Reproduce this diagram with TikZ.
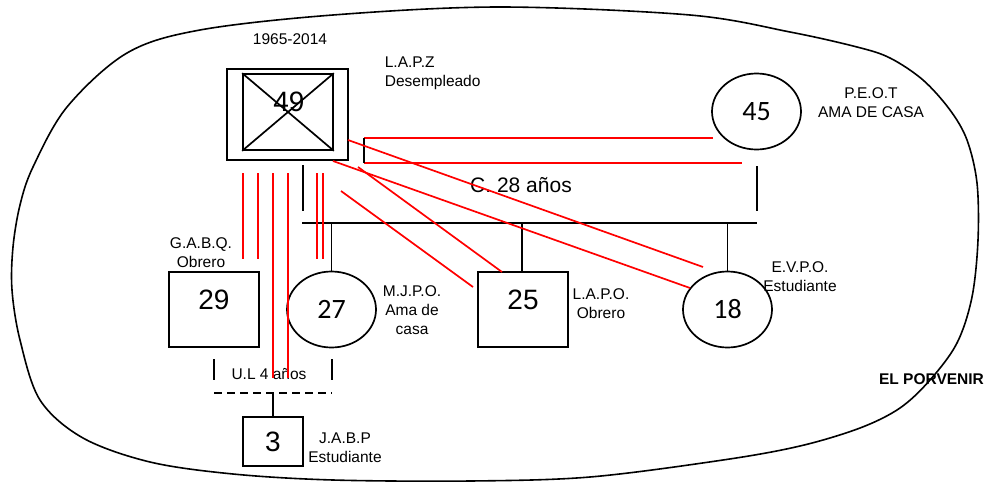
\documentclass[tikz,border=0pt]{standalone}
\usepackage{fontspec}
\setmainfont{Liberation Sans}
\newfontfamily\calib{Carlito}
\usetikzlibrary{shapes.geometric}
\begin{document}
\begin{tikzpicture}[x=1pt,y=-1pt,line width=1.7pt,
  kin/.style={draw=red,line width=1.7pt},
  lbl/.style={font=\fontsize{15.5}{19}\selectfont,inner sep=0pt,align=center,anchor=north},
  num/.style={font=\fontsize{28}{30}\selectfont,inner sep=0pt},
  sq/.style={draw,rectangle,inner sep=0pt},
  fem/.style={draw,ellipse,inner sep=0pt,minimum width=89pt,minimum height=76pt,font=\calib\fontsize{28}{30}\selectfont}]
\useasboundingbox (0,0) rectangle (990,482);
% territory
\draw[line width=1.6pt] plot[smooth cycle,tension=0.55] coordinates {
 (500,7) (690,15) (790,32) (857,47) (890,58) (923,80) (950,110) (967,140)
 (977,183) (978,240) (972,297) (957,343) (930,380) (900,408) (860,428) (800,446)
 (723,460) (590,477) (470,481) (333,480) (233,474) (150,462) (83,438)
 (40,400) (20,340) (12,290) (13,247) (20,205) (33,167) (67,107) (127,53)
 (200,30) (333,15)};
% deceased father
\node[sq,minimum width=121pt,minimum height=91pt] (p49) at (287.5,114.5) {};
\node[sq,minimum width=90pt,minimum height=76pt] (p49in) at (288,112) {};
\draw (p49in.north west) -- (p49in.south east);
\draw (p49in.south west) -- (p49in.north east);
\node[num] (t49) at (289,102) {49};
\node[lbl] (dates) at (290,33) {1965-2014};
\node[lbl,align=left,anchor=north west] (l49) at (384,56) {L.A.P.Z\\Desempleado};
% mother
\node[fem] (c45) at (756.5,111.5) {45};
\node[lbl] (l45) at (871,87) {P.E.O.T\\AMA DE CASA};
% marriage
\coordinate (mL) at (303,165); \coordinate (mLb) at (303,211);
\coordinate (mR) at (757,166); \coordinate (mRb) at (757,211);
\draw (mL) -- (mLb);
\draw (mR) -- (mRb);
\node[font=\fontsize{21}{24}\selectfont,inner sep=0pt,anchor=north] (cas) at (521,177) {C. 28 años};
\coordinate (sibL) at (302,223); \coordinate (sibR) at (757,223);
\draw (sibL) -- (sibR);
% children
\node[sq,minimum width=90pt,minimum height=75pt] (b29) at (214,309.5) {};
\node[num] (t29) at (214,300) {29};
\node[lbl] (l29) at (201,237) {G.A.B.Q.\\Obrero};
\node[fem] (c27) at (331.5,309.5) {27};
\node[lbl] (l27) at (412,285) {M.J.P.O.\\Ama de\\casa};
\node[sq,minimum width=90pt,minimum height=75pt] (b25) at (523,309.5) {};
\node[num] (t25) at (523,300) {25};
\node[lbl] (l25) at (601,288) {L.A.P.O.\\Obrero};
\node[fem] (c18) at (727.5,309.5) {18};
\node[lbl] (l18) at (800,261) {E.V.P.O.\\Estudiante};
\draw (c27.north) -- (c27.north |- sibL);
\draw (522,272) -- (522,223);
\draw (c18.north) -- (c18.north |- sibL);
% free union and grandchild
\coordinate (uL) at (214,359); \coordinate (uLb) at (214,380);
\coordinate (uR) at (332,359); \coordinate (uRb) at (332,380);
\draw (uL) -- (uLb);
\draw (uR) -- (uRb);
\node[lbl] (lul) at (269,368) {U.L 4 años};
\coordinate (dL) at (214,393); \coordinate (dR) at (332,393);
\draw[dash pattern=on 7.5pt off 5.5pt] (dL) -- (dR);
\node[sq,minimum width=60pt,minimum height=49pt,font=\fontsize{28}{30}\selectfont] (b3) at (273,441.5) {3};
\draw (b3.north) -- (b3.north |- dL);
\node[lbl] (l3) at (345,432) {J.A.B.P\\Estudiante};
\node[lbl,font=\bfseries\fontsize{15.5}{19}\selectfont] (place) at (931.5,373) {EL PORVENIR};
% conflict (red) lines
\coordinate (cA) at (364,138); \coordinate (cB) at (364,163);
\coordinate (cAe) at (713,138); \coordinate (cBe) at (742,163);
\draw[kin] (cA) -- (cAe);
\draw[kin] (cB) -- (cBe);
\draw (cA) -- (cB);
\foreach \x/\e in {243/259,258/259,273/378,288/378,317/259,323/259}
  \draw[kin] (\x,173) -- (\x,\e);
\coordinate (d1s) at (348,140); \coordinate (d1e) at (703,267);
\coordinate (d2s) at (333,161); \coordinate (d2e) at (690,288);
\coordinate (d3s) at (358,167); \coordinate (d3e) at (502,272);
\coordinate (d4s) at (341,191); \coordinate (d4e) at (473,287);
\draw[kin] (d1s) -- (d1e);
\draw[kin] (d2s) -- (d2e);
\draw[kin] (d3s) -- (d3e);
\draw[kin] (d4s) -- (d4e);
\end{tikzpicture}
\end{document}
